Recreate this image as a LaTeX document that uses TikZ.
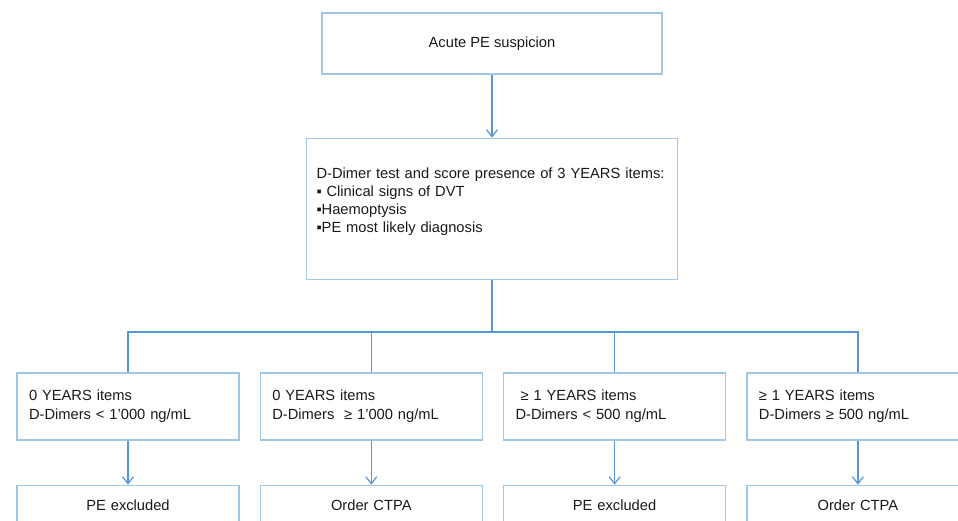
\documentclass[tikz,border=0pt]{standalone}
\usepackage{fontspec}
\setmainfont{Liberation Sans}
\usepackage{tikz}
\usetikzlibrary{positioning,arrows.meta}
\definecolor{boxblue}{RGB}{160,198,232}
\definecolor{lineblue}{RGB}{88,150,210}
\tikzset{node distance=20pt, auto,
  every node/.style={font=\fontsize{14.7}{18}\selectfont, text=black!90},
  box/.style={draw=boxblue, line width=1.3pt, inner xsep=10pt, inner ysep=0pt},
  cond/.style={box, text width=198pt, inner xsep=12pt, minimum height=67pt, align=left,
    font=\fontsize{14.7}{19}\selectfont},
  result/.style={box, text width=198pt, inner xsep=12pt, minimum height=40pt, align=center},
  link/.style={draw=lineblue, line width=1.4pt},
  >={Straight Barb[length=7pt,width=11pt,line width=1.2pt]}}

\begin{document}
\begin{tikzpicture}

           \clip (0pt,0pt) rectangle (958pt,-521pt);

           \node[box, minimum width=340pt, minimum height=61pt] (susp) at (492pt,-43.5pt) {Acute PE suspicion};
           \node[box, text width=351pt, minimum height=141pt, align=left] (test) [below=63pt of susp]
             {D-Dimer test and score presence of 3 YEARS items:\\
              ▪ Clinical signs of DVT\\
              ▪Haemoptysis\\
              ▪PE most likely diagnosis\\
              \mbox{}};

           \node[cond] (c1) at (128pt,-406.5pt) {0 YEARS items\\D-Dimers < 1’000 ng/mL};
           \node[cond] (c2) [right=of c1] {0 YEARS items\\D-Dimers\ \ ≥ 1’000 ng/mL};
           \node[cond] (c3) [right=of c2] {\hspace*{5pt}≥ 1 YEARS items\\D-Dimers < 500 ng/mL};
           \node[cond] (c4) [right=of c3] {≥ 1 YEARS items\\D-Dimers ≥ 500 ng/mL};

           \node[result] (r1) [below=44pt of c1] {PE excluded};
           \node[result] (r2) [below=44pt of c2] {Order CTPA};
           \node[result] (r3) [below=44pt of c3] {PE excluded};
           \node[result] (r4) [below=44pt of c4] {Order CTPA};

           \draw[link,->] (susp) to (test);
           \draw[link] (test.south) -- ++(0pt,-52pt) coordinate (split);
           \draw[link] (c1.north) -- (c1.north |- split) -- (c4.north |- split) -- (c4.north);
           \draw[link] (c2.north) -- (c2.north |- split);
           \draw[link] (c3.north) -- (c3.north |- split);
           \foreach \i in {1,...,4}
             \draw[link,->] (c\i) to (r\i);

         \end{tikzpicture}
\end{document}
